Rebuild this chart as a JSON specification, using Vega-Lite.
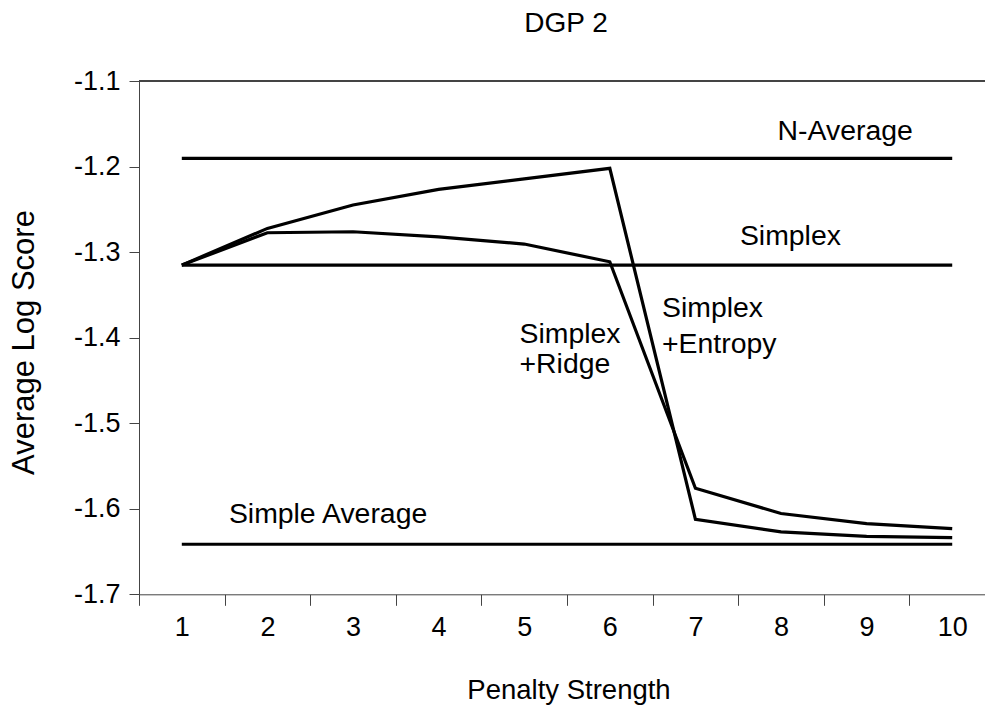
{
  "$schema": "https://vega.github.io/schema/vega-lite/v6.json",
  "width": 846,
  "height": 513.3,
  "autosize": {"type": "none"},
  "padding": {"left": 139, "top": 81, "right": 0, "bottom": 112.7},
  "background": "white",
  "config": {"view": {"stroke": null}, "font": "Liberation Sans"},
  "title": {"text": "DGP 2", "fontSize": 28, "font": "Liberation Sans", "fontWeight": "normal", "color": "black", "anchor": "middle", "frame": "group", "dx": 4, "baseline": "alphabetic", "offset": 7},
  "datasets": {
    "lines": [
      {"series": "N-Average", "x": 1, "y": -1.1904}, {"series": "N-Average", "x": 2, "y": -1.1904}, {"series": "N-Average", "x": 3, "y": -1.1904}, {"series": "N-Average", "x": 4, "y": -1.1904}, {"series": "N-Average", "x": 5, "y": -1.1904}, {"series": "N-Average", "x": 6, "y": -1.1904}, {"series": "N-Average", "x": 7, "y": -1.1904}, {"series": "N-Average", "x": 8, "y": -1.1904}, {"series": "N-Average", "x": 9, "y": -1.1904}, {"series": "N-Average", "x": 10, "y": -1.1904},
      {"series": "Simplex", "x": 1, "y": -1.3152}, {"series": "Simplex", "x": 2, "y": -1.3152}, {"series": "Simplex", "x": 3, "y": -1.3152}, {"series": "Simplex", "x": 4, "y": -1.3152}, {"series": "Simplex", "x": 5, "y": -1.3152}, {"series": "Simplex", "x": 6, "y": -1.3152}, {"series": "Simplex", "x": 7, "y": -1.3152}, {"series": "Simplex", "x": 8, "y": -1.3152}, {"series": "Simplex", "x": 9, "y": -1.3152}, {"series": "Simplex", "x": 10, "y": -1.3152},
      {"series": "Simple Average", "x": 1, "y": -1.6415}, {"series": "Simple Average", "x": 2, "y": -1.6415}, {"series": "Simple Average", "x": 3, "y": -1.6415}, {"series": "Simple Average", "x": 4, "y": -1.6415}, {"series": "Simple Average", "x": 5, "y": -1.6415}, {"series": "Simple Average", "x": 6, "y": -1.6415}, {"series": "Simple Average", "x": 7, "y": -1.6415}, {"series": "Simple Average", "x": 8, "y": -1.6415}, {"series": "Simple Average", "x": 9, "y": -1.6415}, {"series": "Simple Average", "x": 10, "y": -1.6415},
      {"series": "Simplex+Ridge", "x": 1, "y": -1.3152}, {"series": "Simplex+Ridge", "x": 2, "y": -1.2774}, {"series": "Simplex+Ridge", "x": 3, "y": -1.2762}, {"series": "Simplex+Ridge", "x": 4, "y": -1.2821}, {"series": "Simplex+Ridge", "x": 5, "y": -1.2906}, {"series": "Simplex+Ridge", "x": 6, "y": -1.3113}, {"series": "Simplex+Ridge", "x": 7, "y": -1.576}, {"series": "Simplex+Ridge", "x": 8, "y": -1.6056}, {"series": "Simplex+Ridge", "x": 9, "y": -1.6173}, {"series": "Simplex+Ridge", "x": 10, "y": -1.6232},
      {"series": "Simplex+Entropy", "x": 1, "y": -1.3152}, {"series": "Simplex+Entropy", "x": 2, "y": -1.2723}, {"series": "Simplex+Entropy", "x": 3, "y": -1.245}, {"series": "Simplex+Entropy", "x": 4, "y": -1.2267}, {"series": "Simplex+Entropy", "x": 5, "y": -1.2145}, {"series": "Simplex+Entropy", "x": 6, "y": -1.2021}, {"series": "Simplex+Entropy", "x": 7, "y": -1.6123}, {"series": "Simplex+Entropy", "x": 8, "y": -1.6271}, {"series": "Simplex+Entropy", "x": 9, "y": -1.6322}, {"series": "Simplex+Entropy", "x": 10, "y": -1.6337}
    ],
    "labels": [
      {"label": "N-Average", "x": 7.96, "y": -1.169},
      {"label": "Simplex", "x": 7.52, "y": -1.2918},
      {"label": "Simplex", "x": 4.945, "y": -1.4064},
      {"label": "+Ridge", "x": 4.945, "y": -1.4415},
      {"label": "Simplex", "x": 6.61, "y": -1.376},
      {"label": "+Entropy", "x": 6.61, "y": -1.4181},
      {"label": "Simple Average", "x": 1.55, "y": -1.617}
    ]
  },
  "layer": [
    {
      "data": {"name": "lines"},
      "mark": {"type": "line", "color": "black", "strokeWidth": 3.2},
      "encoding": {
        "x": {
          "field": "x", "type": "quantitative",
          "title": "Penalty Strength",
          "scale": {"domain": [0.5, 10.383], "nice": false, "zero": false},
          "axis": {
            "values": [0.5, 1.5, 2.5, 3.5, 4.5, 5.5, 6.5, 7.5, 8.5, 9.5],
            "labelExpr": "format(datum.value + 0.5, 'd')",
            "labelOffset": 42.8,
            "labelFlush": false,
            "labelOverlap": false,
            "labelBaseline": "alphabetic",
            "labelPadding": 30,
            "labelFont": "Liberation Sans",
            "labelFontSize": 27,
            "labelColor": "black",
            "tickSize": 11,
            "tickColor": "#444444",
            "domainColor": "#444444",
            "grid": false,
            "titleFont": "Liberation Sans",
            "titleFontSize": 27.5,
            "titleFontWeight": "normal",
            "titleColor": "black",
            "titleBaseline": "alphabetic",
            "titleAlign": "center",
            "titleX": 429.5,
            "titleY": 103.7
          }
        },
        "y": {
          "field": "y", "type": "quantitative",
          "title": "Average Log Score",
          "scale": {"domain": [-1.7, -1.1], "nice": false, "zero": false},
          "axis": {
            "values": [-1.7, -1.6, -1.5, -1.4, -1.3, -1.2, -1.1],
            "labelExpr": "'-' + format(-datum.value, '.1f')",
            "labelFont": "Liberation Sans",
            "labelFontSize": 27,
            "labelColor": "black",
            "labelPadding": 9,
            "tickSize": 10,
            "tickColor": "#444444",
            "domainColor": "#444444",
            "grid": false,
            "titleFont": "Liberation Sans",
            "titleFontSize": 31,
            "titleFontWeight": "normal",
            "titleColor": "black",
            "titleAngle": 270,
            "titleBaseline": "alphabetic",
            "titleAlign": "center",
            "titleX": -106,
            "titleY": 261
          }
        },
        "detail": {"field": "series", "type": "nominal"}
      }
    },
    {
      "data": {"name": "lines"},
      "mark": {"type": "rule", "color": "#444444", "strokeWidth": 1},
      "encoding": {
        "y": {"datum": -1.1, "type": "quantitative", "title": "Average Log Score", "scale": {"domain": [-1.7, -1.1], "nice": false, "zero": false}}
      }
    },
    {
      "data": {"name": "labels"},
      "mark": {"type": "text", "align": "left", "baseline": "alphabetic", "font": "Liberation Sans", "fontSize": 28.4, "color": "black"},
      "encoding": {
        "x": {"field": "x", "type": "quantitative", "title": "Penalty Strength", "scale": {"domain": [0.5, 10.383], "nice": false, "zero": false}},
        "y": {"field": "y", "type": "quantitative", "title": "Average Log Score", "scale": {"domain": [-1.7, -1.1], "nice": false, "zero": false}},
        "text": {"field": "label"}
      }
    }
  ]
}
